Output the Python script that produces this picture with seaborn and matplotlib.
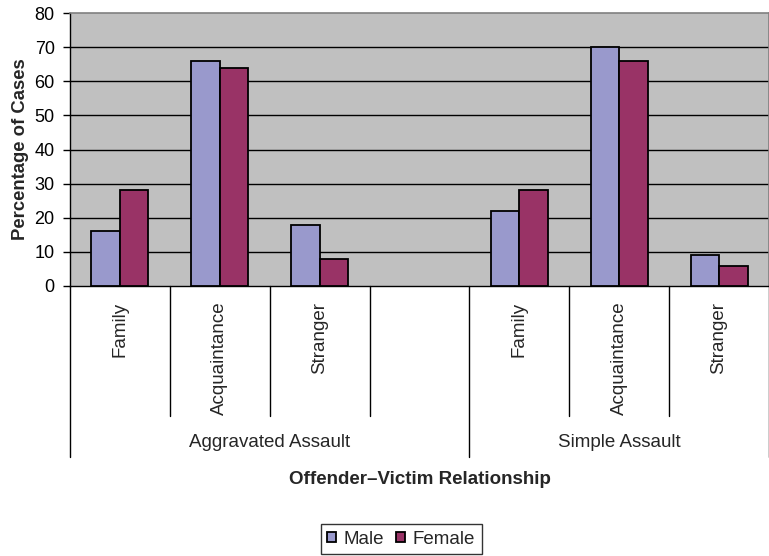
import matplotlib
matplotlib.use("Agg")
import matplotlib.pyplot as plt
import matplotlib.transforms as mtransforms
import seaborn as sns
import pandas as pd

# ---- data ----
groups = ["Aggravated Assault", "Simple Assault"]
relationships = ["Family", "Acquaintance", "Stranger"]
male_agg = [16, 66, 18]
female_agg = [28, 64, 8]
male_simple = [22, 70, 9]
female_simple = [28, 66, 6]
series = ["Male", "Female"]
y_ticks = [0, 10, 20, 30, 40, 50, 60, 70, 80]

# slot order: 3 aggravated, one blank, 3 simple
order = [f"{groups[0]}|{r}" for r in relationships] + [f"{groups[0]}|"] + \
        [f"{groups[1]}|{r}" for r in relationships]
rows = []
for r, m, f in zip(relationships, male_agg, female_agg):
    rows.append({"slot": f"{groups[0]}|{r}", "sex": "Male", "pct": m})
    rows.append({"slot": f"{groups[0]}|{r}", "sex": "Female", "pct": f})
for r, m, f in zip(relationships, male_simple, female_simple):
    rows.append({"slot": f"{groups[1]}|{r}", "sex": "Male", "pct": m})
    rows.append({"slot": f"{groups[1]}|{r}", "sex": "Female", "pct": f})
df = pd.DataFrame(rows)

sns.set_theme(style="white")
plt.rcParams["font.family"] = ["Liberation Sans", "DejaVu Sans"]

fig = plt.figure(figsize=(7.69, 5.56), dpi=100)
ax = fig.add_axes([70 / 769, 1 - 286 / 556, 699 / 769, 273 / 556])
ax.set_facecolor("#C0C0C0")

sns.barplot(data=df, x="slot", y="pct", hue="sex", order=order, hue_order=series,
            palette={"Male": "#9999CC", "Female": "#993366"}, saturation=1,
            edgecolor="black", linewidth=1.3, width=0.57, ax=ax, zorder=3)

ax.set_ylim(0, 80)
ax.set_xlim(-0.5, 6.5)
ax.set_yticks(y_ticks)
ax.set_yticklabels([str(t) for t in y_ticks], fontsize=13, color="black")
ax.tick_params(axis="y", direction="out", length=5, width=1, color="black", pad=6, left=True)
ax.set_xticks([])
ax.set_xlabel("")
ax.set_ylabel("Percentage of Cases", fontsize=13.3, fontweight="bold", labelpad=4)

for v in y_ticks[1:-1]:
    ax.axhline(v, color="black", lw=1, zorder=1)

for s in ["top", "right"]:
    ax.spines[s].set_color("#808080")
    ax.spines[s].set_linewidth(1.2)
ax.spines["left"].set_color("black")
ax.spines["bottom"].set_color("black")
ax.spines["left"].set_linewidth(1)
ax.spines["bottom"].set_linewidth(1)

trans = mtransforms.blended_transform_factory(ax.transData, ax.transAxes)
# category labels
for i, key in enumerate(order):
    lab = key.split("|")[1]
    if lab:
        ax.text(i, -0.058, lab, rotation=90, ha="center", va="top",
                fontsize=13.5, transform=trans)
# dividers
for x in [0.5, 1.5, 2.5, 4.5, 5.5]:
    ax.plot([x, x], [0, -0.476], color="black", lw=1, transform=trans, clip_on=False)
for x in [-0.5, 3.5, 6.5]:
    ax.plot([x, x], [0, -0.626], color="black", lw=1, transform=trans, clip_on=False)
# group labels
ax.text(1.5, -0.575, groups[0], ha="center", va="center", fontsize=13.5, transform=trans)
ax.text(5.0, -0.575, groups[1], ha="center", va="center", fontsize=13.5, transform=trans)
# axis title
fig.text(420 / 769, 1 - 480 / 556, "Offender\u2013Victim Relationship",
         ha="center", va="center", fontsize=13.5, fontweight="bold")

handles, labels = ax.get_legend_handles_labels()
if ax.get_legend() is not None:
    ax.get_legend().remove()
leg = fig.legend(handles, labels, loc="center", bbox_to_anchor=(401 / 769, 1 - 539 / 556),
                 ncol=2, frameon=True, fancybox=False, fontsize=13.5,
                 handlelength=0.5, handleheight=0.5, handletextpad=0.4,
                 columnspacing=0.6, borderpad=0.35, edgecolor="black")
leg.get_frame().set_linewidth(1)

fig.savefig("out.png", dpi=100)
